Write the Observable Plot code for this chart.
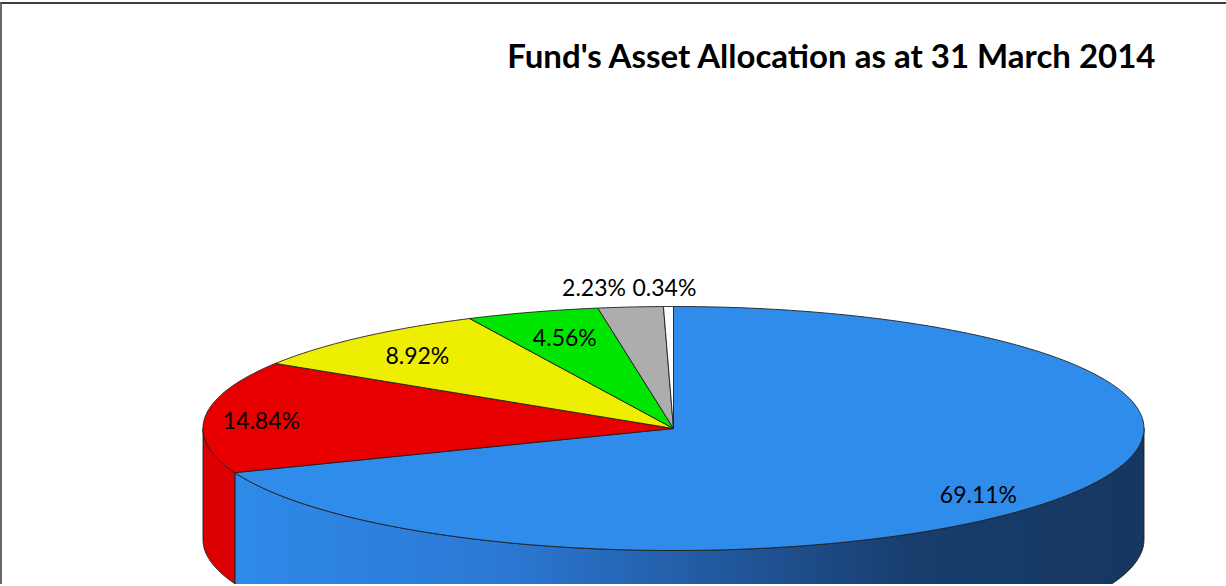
<!DOCTYPE html>
<html><head><meta charset="utf-8">
<script src="https://cdn.jsdelivr.net/npm/d3@7"></script>
<script src="https://cdn.jsdelivr.net/npm/@observablehq/plot@0.6"></script>
<style>
html,body{margin:0;padding:0;background:#fff;width:1226px;height:586px;overflow:hidden;}
#frame{position:absolute;left:0;top:2px;border-top:2px solid #3c3c3c;border-left:2px solid #6a6a6a;width:1224px;height:580px;overflow:hidden;}
#frame svg{display:block;}
</style></head><body><div id="frame"></div>
<script>
// ---- data ----
const title = "Fund's Asset Allocation as at 31 March 2014";
const categories = ["Asset class 1", "Asset class 2", "Asset class 3", "Asset class 4", "Asset class 5", "Asset class 6"];
const values = [69.11, 14.84, 8.92, 4.56, 2.23, 0.34];
const labels = values.map(v => v.toFixed(2) + "%");

// ---- styles / layout ----
const topColors = ["#2F8CEB", "#E80000", "#EEEE00", "#00E600", "#ADADAD", "#FFFFFF"];
const sideColors = ["url(#blueSide)", "#DD0000", "#DADA00", "#00D000", "#9A9A9A", "#EEEEEE"];
const depth = 0.91;                 // side height in y-units of the ellipse
const labelR = [0.8, 0.88, 0.8, 0.77, 1.15, 1.15];
const labelShift = [[-0.012, 0.097], [0, 0.027], [-0.012, 0.008], [0, 0], [-0.064, 0], [-0.007, 0]];

const TAU = 2 * Math.PI;
let acc = 0;
const slices = values.map((v, i) => {
  const a0 = acc / 100 * TAU; acc += v; const a1 = acc / 100 * TAU;
  return {i, a0, a1};
});
const pt = (a, r = 1, drop = 0) => ({ux: r * Math.sin(a), uy: -r * Math.cos(a) + drop});
function arc(a0, a1, drop) {
  const n = Math.max(2, Math.ceil((a1 - a0) / (Math.PI / 360)));
  return d3.range(n + 1).map(k => pt(a0 + (a1 - a0) * k / n, 1, drop));
}

const topRows = [];
slices.forEach(s => {
  const c = {ux: 0, uy: 0};
  [c, ...arc(s.a0, s.a1, 0), c].forEach(p => topRows.push({...p, id: "t" + s.i, fill: topColors[s.i], cat: categories[s.i]}));
});
const sideRows = [];
slices.forEach(s => {
  const lo = Math.max(s.a0, Math.PI / 2), hi = Math.min(s.a1, 3 * Math.PI / 2);
  if (lo >= hi) return;
  const upper = arc(lo, hi, 0), lower = arc(lo, hi, depth).reverse();
  [...upper, ...lower, upper[0]].forEach(p => sideRows.push({...p, id: "s" + s.i, fill: sideColors[s.i], cat: categories[s.i]}));
});
const labelRows = slices.map(s => {
  const m = (s.a0 + s.a1) / 2;
  const p = pt(m, labelR[s.i]);
  return {ux: p.ux + labelShift[s.i][0], uy: p.uy + labelShift[s.i][1], text: labels[s.i]};
});

const chart = Plot.plot({
  width: 1224, height: 582,
  margin: 0,
  style: {background: "white", overflow: "hidden"},
  x: {domain: [-1, 1], range: [200.5, 1141.5], axis: null},
  y: {domain: [-1, 1], range: [302, 546], axis: null},
  color: {type: "identity"},
  marks: [
    Plot.line(sideRows, {x: "ux", y: "uy", z: "id", fill: "fill", stroke: "#1e1e1e", strokeWidth: 0.9, curve: "linear", strokeLinejoin: "round"}),
    Plot.line(topRows, {x: "ux", y: "uy", z: "id", fill: "fill", stroke: "#1e1e1e", strokeWidth: 0.9, curve: "linear", strokeLinejoin: "round"}),
    Plot.text(labelRows, {x: "ux", y: "uy", text: "text", fontSize: 23, fontFamily: "Lato, 'Open Sans', sans-serif", fill: "#000"}),
    Plot.text([title], {text: d => d, frameAnchor: "top-right", textAnchor: "end", lineAnchor: "top", dx: -71, dy: 40, fontSize: 33, fontWeight: "bold", fontFamily: "Lato, 'Open Sans', sans-serif", fill: "#000"})
  ]
});

// gradient for the blue side
const defs = d3.select(chart).insert("defs", ":first-child");
const g = defs.append("linearGradient").attr("id", "blueSide").attr("x1", 0).attr("x2", 1).attr("y1", 0).attr("y2", 0);
[[0, "#2F8AE8"], [0.3, "#2B78D4"], [0.55, "#21569A"], [0.75, "#183D6D"], [1, "#153761"]]
  .forEach(([o, c]) => g.append("stop").attr("offset", o).attr("stop-color", c));

document.getElementById("frame").appendChild(chart);
</script>
</body></html>
